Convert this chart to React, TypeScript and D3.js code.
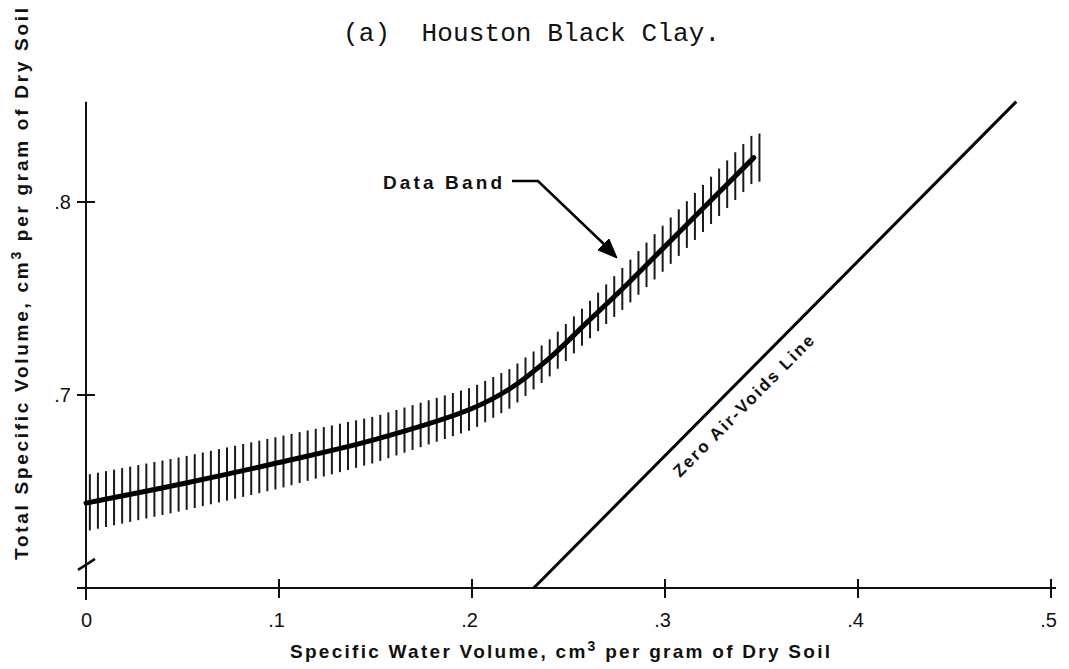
import * as d3 from 'd3';

// Data band (centre curve)
const bandWater = [0, 0.05, 0.1, 0.15, 0.2, 0.22, 0.24, 0.26, 0.28, 0.3, 0.32, 0.346];
const bandVolume = [0.644, 0.654, 0.665, 0.677, 0.693, 0.7035, 0.719, 0.738, 0.757, 0.777, 0.797, 0.823];
const bandHalf = [0.0146, 0.014, 0.0135, 0.012, 0.011, 0.0102, 0.0096, 0.0096, 0.011, 0.012, 0.0122, 0.0125];

// Zero air-voids line end points
const zavWater = [0.232, 0.482];
const zavVolume = [0.6, 0.852];

const xTicks = [0, 0.1, 0.2, 0.3, 0.4, 0.5];
const xTickLabels = ['0', '.1', '.2', '.3', '.4', '.5'];
const yTicks = [0.7, 0.8];
const yTickLabels = ['.7', '.8'];

const W = 1069;
const H = 669;
const sans = '"Liberation Sans", Arial, sans-serif';

export default function App() {
  const x = d3.scaleLinear().domain([0, 0.5]).range([86, 1051]);
  const y = d3.scaleLinear().domain([0.6, 0.8]).range([588, 202]);

  const centre = d3.scaleLinear().domain(bandWater).range(bandVolume).clamp(true);
  const half = d3.scaleLinear().domain(bandWater).range(bandHalf).clamp(true);

  const curve = d3
    .line<number>()
    .x((_, i) => x(bandWater[i]))
    .y((d) => y(d))
    .curve(d3.curveCatmullRom.alpha(0.5))(bandVolume);

  // vertical hatching of the band
  const hatchStep = 0.00418;
  const hatches = d3.range(0.002, 0.353, hatchStep);

  const zavX1 = x(zavWater[0]);
  const zavY1 = y(zavVolume[0]);
  const zavX2 = x(zavWater[1]);
  const zavY2 = y(zavVolume[1]);
  const zavAngle = (Math.atan2(zavY2 - zavY1, zavX2 - zavX1) * 180) / Math.PI;

  const axisTop = y(0.852);
  const breakY = y(0.612);

  return (
    <svg
      width={W}
      height={H}
      style={{ position: 'absolute', left: 0, top: 0, background: '#fff' }}
    >
      {/* title */}
      <text
        x={343}
        y={41}
        fontFamily='"Liberation Mono", "Courier New", monospace'
        fontSize={26}
        textLength={377}
        lengthAdjust="spacing"
        fill="#111"
        style={{ whiteSpace: 'pre' }}
      >
        (a)  Houston Black Clay.
      </text>

      {/* axes */}
      <line x1={86} x2={86} y1={axisTop} y2={600} stroke="#111" strokeWidth={2} />
      <line x1={77} x2={1056} y1={588} y2={588} stroke="#111" strokeWidth={2} />
      <path
        d={`M78,${breakY + 5} Q86,${breakY} 95,${breakY - 6}`}
        fill="none"
        stroke="#111"
        strokeWidth={2.5}
      />

      {xTicks.map((t, i) => (
        <g key={'xt' + i}>
          <line x1={x(t)} x2={x(t)} y1={579} y2={598} stroke="#111" strokeWidth={2} />
          <text
            x={x(t) + 6}
            y={627}
            textAnchor="end"
            fontFamily={sans}
            fontSize={20}
            fill="#111"
          >
            {xTickLabels[i]}
          </text>
        </g>
      ))}
      {yTicks.map((t, i) => (
        <g key={'yt' + i}>
          <line x1={77} x2={95} y1={y(t)} y2={y(t)} stroke="#111" strokeWidth={2} />
          <text
            x={71}
            y={y(t) + 7}
            textAnchor="end"
            fontFamily={sans}
            fontSize={20}
            fill="#111"
          >
            {yTickLabels[i]}
          </text>
        </g>
      ))}

      {/* axis titles */}
      <text
        x={290}
        y={658}
        fontFamily={sans}
        fontWeight="bold"
        fontSize={19}
        textLength={540}
        lengthAdjust="spacing"
        fill="#111"
      >
        Specific Water Volume, cm
        <tspan dy={-7} fontSize={14}>3</tspan>
        <tspan dy={7}> per  gram of Dry Soil</tspan>
      </text>
      <text
        transform="translate(28,560) rotate(-90)"
        fontFamily={sans}
        fontWeight="bold"
        fontSize={19}
        textLength={552}
        lengthAdjust="spacing"
        fill="#111"
      >
        Total Specific Volume, cm
        <tspan dy={-7} fontSize={14}>3</tspan>
        <tspan dy={7}> per gram of Dry Soil</tspan>
      </text>

      {/* data band hatching */}
      {hatches.map((w, i) => (
        <line
          key={'h' + i}
          x1={x(w)}
          x2={x(w)}
          y1={y(centre(w) + half(w))}
          y2={y(centre(w) - half(w))}
          stroke="#1a1a1a"
          strokeWidth={2}
        />
      ))}
      <path d={curve ?? ''} fill="none" stroke="#000" strokeWidth={5} strokeLinecap="round" />

      {/* zero air-voids line */}
      <line x1={zavX1} y1={zavY1} x2={zavX2} y2={zavY2} stroke="#000" strokeWidth={3} />
      <text
        transform={`translate(680,478) rotate(${zavAngle})`}
        fontFamily={sans}
        fontWeight="bold"
        fontSize={17}
        textLength={192}
        lengthAdjust="spacing"
        fill="#111"
      >
        Zero Air-Voids Line
      </text>

      {/* Data Band annotation */}
      <text
        x={383}
        y={189}
        fontFamily={sans}
        fontWeight="bold"
        fontSize={19}
        textLength={119}
        lengthAdjust="spacing"
        fill="#111"
      >
        Data Band
      </text>
      <path d="M512,181 L538,181 L607,247" fill="none" stroke="#000" strokeWidth={2.5} />
      <path d="M617,258 L598,250 L609,239 Z" fill="#000" stroke="#000" strokeWidth={1} />
    </svg>
  );
}
